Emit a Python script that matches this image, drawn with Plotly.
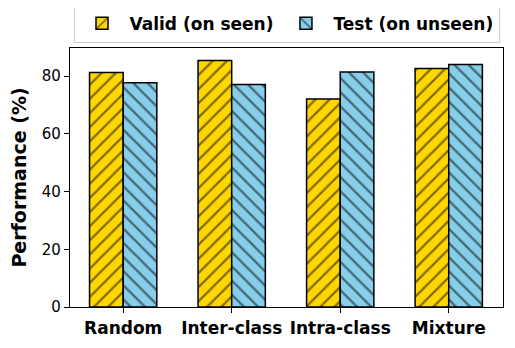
import plotly.graph_objects as go

categories = ["Random", "Inter-class", "Intra-class", "Mixture"]
valid_seen = [81.2, 85.4, 72.0, 82.6]
test_unseen = [77.7, 77.1, 81.4, 84.0]
y_ticks = [0, 20, 40, 60, 80]

fig = go.Figure()
fig.add_trace(go.Bar(
    x=categories, y=valid_seen, name="Valid (on seen)",
    marker=dict(color="#FFD700", line=dict(color="black", width=1.5),
                pattern=dict(shape="/", fgcolor="black", bgcolor="#FFD700",
                             size=10, solidity=0.22)),
))
fig.add_trace(go.Bar(
    x=categories, y=test_unseen, name="Test (on unseen)",
    marker=dict(color="#87CEEB", line=dict(color="black", width=1.5),
                pattern=dict(shape="\\", fgcolor="black", bgcolor="#87CEEB",
                             size=10, solidity=0.22)),
))

fig.update_layout(
    width=507, height=340,
    margin=dict(l=62, r=12, t=40, b=41, autoexpand=False),
    barmode="group", bargap=0.38, bargroupgap=0.0,
    plot_bgcolor="white", paper_bgcolor="white",
    font=dict(family="DejaVu Sans", color="black", size=15),
    legend=dict(orientation="h", x=0.5, xanchor="center", y=1.02, yanchor="bottom",
                bordercolor="#cccccc", borderwidth=1,
                font=dict(size=17, family="DejaVu Sans", weight="bold"),
                itemwidth=45),
    xaxis=dict(range=[-0.49, 3.5], showline=True, linecolor="black", linewidth=1.2,
               mirror=True, ticks="outside", ticklen=5, tickcolor="black",
               tickfont=dict(size=17, weight="bold")),
    yaxis=dict(range=[0, 89.7], tickvals=y_ticks, showline=True, linecolor="black",
               linewidth=1.2, mirror=True, ticks="outside", ticklen=5, tickcolor="black",
               showgrid=False, zeroline=False, tickfont=dict(size=15),
               title=dict(text="Performance (%)", font=dict(size=19, weight="bold"),
                          standoff=10)),
)

fig.write_html("out.html")
